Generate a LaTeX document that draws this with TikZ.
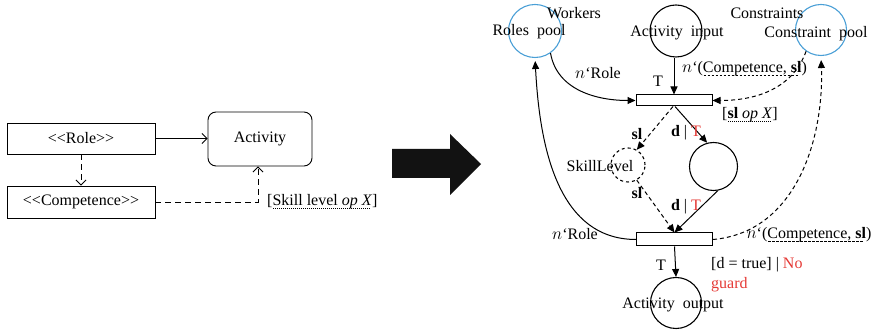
\documentclass[tikz,border=0pt]{standalone}
\usepackage{fontspec}
\setmainfont{Liberation Serif}
\usetikzlibrary{arrows.meta}
\definecolor{poolblue}{HTML}{4A9FD6}
\definecolor{annot}{HTML}{E53935}
% text with a dotted or dashed rule underneath
\newcommand\dotul[1]{\setbox0=\hbox{#1}\rlap{\copy0}\raisebox{-2.8pt}{\hbox to \wd0{\leaders\hbox to 2pt{\hss\rule{0.9pt}{0.7pt}\hss}\hfill}}}
\newcommand\dashul[1]{\setbox0=\hbox{#1}\rlap{\copy0}\raisebox{-2.8pt}{\hbox to \wd0{\leaders\hbox to 4pt{\hss\rule{2.6pt}{0.7pt}\hss}\hfill}}}
% stereotype brackets, kept apart so they are not joined into guillemets
\newcommand\stereo[1]{<\kern0pt<#1>\kern0pt>}
\begin{document}
\begin{tikzpicture}[x=1pt,y=1pt,
  font=\fontsize{16}{19}\selectfont,
  umlbox/.style={draw, line width=0.9pt, minimum width=148pt, inner sep=0pt},
  openarrow/.style={line width=0.9pt, -{Straight Barb[length=5pt,width=10pt]}},
  umldash/.style={dash pattern=on 6pt off 4pt},
  place/.style={circle, draw, line width=1.1pt, inner sep=0pt},
  trans/.style={draw, line width=1pt, minimum width=76pt, inner sep=0pt},
  arc/.style={line width=1pt, -{Triangle[length=8pt,width=7pt]}},
  darc/.style={arc, dash pattern=on 4pt off 3pt},
  lbl/.style={inner sep=0pt}]
\useasboundingbox (0,0) rectangle (880,331);

% ---- UML view ----
\node[umlbox, minimum height=31pt] (role) at (81,192.5) {\stereo{Role}};
\node[umlbox, minimum height=32pt] (comp) at (81,129) {\stereo{Competence}};
\node[draw, line width=0.9pt, rounded corners=8pt, minimum width=104pt, minimum height=54pt] (act) at (260,192) {Activity};
\draw[openarrow] (role.east) -- (role.east -| act.west);
\draw[openarrow, umldash] (role.south) -- (comp.north);
\draw[openarrow, umldash] (comp.east) -| ([xshift=-2pt]act.south);
\node[lbl, anchor=west] (skill) at (267,129) {[\dotul{Skill level \textit{op X}}]};

% ---- transformation arrow ----
\fill[black!93] (392,182) -- (450,182) -- (450,197) -- (481,167) -- (450,136) -- (450,153) -- (392,153) -- cycle;

% ---- Petri net ----
\node[place, poolblue, minimum size=53pt] (roles) at (535,300) {};
\node[place, minimum size=52pt] (ain) at (676,300) {};
\node[place, poolblue, minimum size=51pt] (cpool) at (821,301) {};
\node[place, dashed, minimum size=34pt] (sk) at (628,166) {};
\node[place, minimum size=48pt] (mid) at (713.5,164.5) {};
\node[place, minimum size=51pt] (aout) at (676,28) {};

\node[trans, minimum height=11pt] (t1) at (674,230.5) {};
\node[trans, minimum height=13pt] (t2) at (674.5,91.5) {};

\node[lbl] (workers) at (574,318) {Workers};
\node[lbl] (rolestxt) at (529,299) {Roles\ \ pool};
\node[lbl] (aintxt) at (677,298) {Activity\ \ input};
\node[lbl] (constr) at (767,318) {Constraints};
\node[lbl] (cpooltxt) at (816,297) {Constraint\ \ pool};
\node[lbl] (sktxt) at (600,165) {SkillLevel};
\node[lbl] (aouttxt) at (673,26) {Activity\ \ output};

% arcs into and out of the first transition
\draw[arc] (ain.south -| t1.north) -- (t1.north);
\draw[arc] (roles.-55) to[out=-80, in=180] (t1.west);
\draw[darc] (cpool.-125) to[out=-110, in=0] (t1.east);
\draw[darc] ([xshift=-1pt]t1.south) -- (sk.60);
\draw[arc] ([xshift=1pt]t1.south) -- (mid.105);

% arcs into and out of the second transition
\draw[darc] (sk.-60) -- (t2.north);
\draw[arc] (mid.-80) -- (t2.north);
\draw[arc, shorten >=3pt] (t2.west) to[out=180, in=-87] (roles.south);
\draw[darc, shorten >=4pt] (t2.east) to[out=5, in=-88] (cpool.south);
\draw[arc] (t2.south) -- (aout.north);

% inscriptions
\node[lbl] (tin) at (658,250) {T};
\node[lbl, anchor=west] (cin) at (682,262) {$n$`(\dashul{Competence, \textbf{sl}})};
\node[lbl] (rin) at (598,258) {$n$`Role};
\node[lbl] (guard1) at (750,216) {[\dotul{\textbf{sl} \textit{op X}}]};
\node[lbl] (sl1) at (637,197) {\textbf{sl}};
\node[lbl] (dt1) at (686,198) {\textbf{d} | \textcolor{annot}{T}};
\node[lbl] (sl2) at (637,138) {\textbf{sl}};
\node[lbl] (dt2) at (686,124) {\textbf{d} | \textcolor{annot}{T}};
\node[lbl] (rout) at (575,97) {$n$`Role};
\node[lbl] (cout) at (809,96) {$n$`(\dashul{Competence, \textbf{sl}})};
\node[lbl] (tout) at (661,66) {T};
\node[lbl, anchor=west] (guard2) at (711,66) {[d = true] | \textcolor{annot}{No}};
\node[lbl, anchor=west] (guard3) at (711,46) {\textcolor{annot}{guard}};
\end{tikzpicture}
\end{document}
